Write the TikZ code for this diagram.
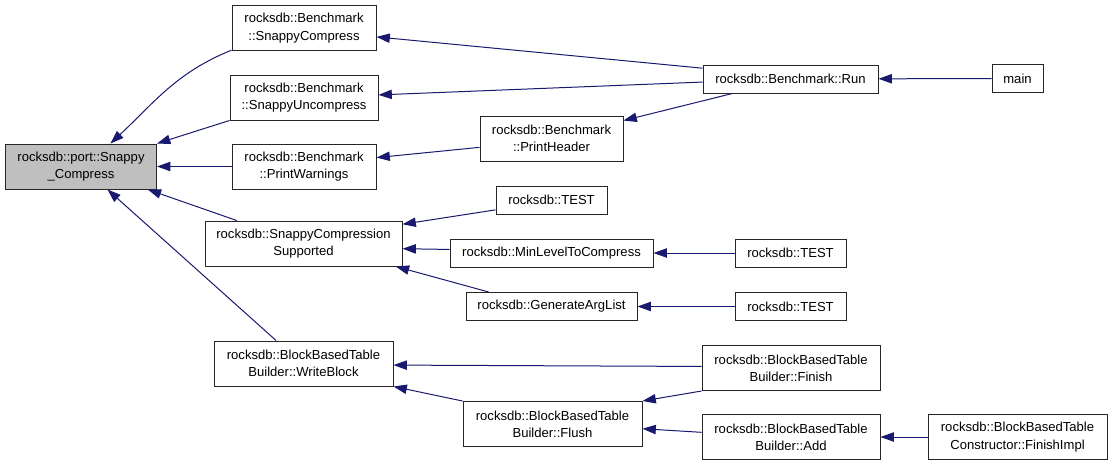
\documentclass[tikz,border=0pt]{standalone}
\usepackage{fontspec}
\setmainfont{Liberation Sans}
\usetikzlibrary{arrows.meta}
\definecolor{edgeblue}{RGB}{25,25,112}
\definecolor{focusgray}{RGB}{191,191,191}

\begin{document}
\begin{tikzpicture}[x=0.75pt,y=0.75pt,>={Triangle[length=10pt,width=7pt]},
						fn/.style={draw=black!85, fill=white, line width=0.75pt, align=center, inner sep=0pt,
							font=\fontsize{9.8}{13}\selectfont},
						one/.style={fn, minimum height=21pt},
						two/.style={fn, minimum height=33.75pt},
						focus/.style={fill=focusgray},
						call/.style={<-, draw=edgeblue, line width=0.75pt}]

						\useasboundingbox (0,0) rectangle (1112,-465);

						%%% Function under study
						\node at (81, -166.5) [two,focus,minimum width=113.25pt] (snappy) {rocksdb::port::Snappy\\\_Compress};

						%%% Direct callers
						\node at (304, -28) [two,minimum width=108pt] (scomp) {rocksdb::Benchmark\\::SnappyCompress};
						\node at (304, -97.5) [two,minimum width=111pt] (suncomp) {rocksdb::Benchmark\\::SnappyUncompress};
						\node at (304, -166.5) [two,minimum width=108pt] (pwarn) {rocksdb::Benchmark\\::PrintWarnings};
						\node at (303.5, -243.5) [two,minimum width=147.75pt] (scsup) {rocksdb::SnappyCompression\\Supported};
						\node at (303.5, -363.5) [two,minimum width=134.25pt] (wblock) {rocksdb::BlockBasedTable\\Builder::WriteBlock};

						\draw [call] (snappy.38) to[out=43,in=202] (scomp.197);
						\draw [call] (snappy.north east) -- (suncomp.south west);
						\draw [call] (snappy) -- (pwarn);
						\draw [call] (snappy.-19) -- (scsup.161);
						\draw [call] (snappy.-41) -- (wblock.140);

						%%% Benchmark side
						\node at (790.5, -79) [one,minimum width=131.25pt] (run) {rocksdb::Benchmark::Run};
						\node at (1017.5, -78.5) [one,minimum width=38.25pt] (main) {main};
						\node at (551.5, -138.5) [two,minimum width=107.25pt] (pheader) {rocksdb::Benchmark\\::PrintHeader};

						\draw [call] (scomp.-7) -- (run.173);
						\draw [call] (suncomp.2) -- (run.182);
						\draw [call] (pheader.14) -- (run.194);
						\draw [call] (run) -- (main);
						\draw [call] (pwarn.7) -- (pheader.187);

						%%% Compression support tests
						\node at (551.5, -200) [one,minimum width=83.25pt] (testA) {rocksdb::TEST};
						\node at (551.5, -253) [one,minimum width=152.25pt] (minlvl) {rocksdb::MinLevelToCompress};
						\node at (551.5, -306.5) [one,minimum width=128.25pt] (genarg) {rocksdb::GenerateArgList};
						\node at (790.5, -253) [one,minimum width=83.25pt] (testB) {rocksdb::TEST};
						\node at (790.5, -306.5) [one,minimum width=83.25pt] (testC) {rocksdb::TEST};

						\draw [call] (scsup.11) -- (testA.190);
						\draw [call] (scsup.-3) -- (minlvl.178);
						\draw [call] (scsup.-14) -- (genarg.167);
						\draw [call] (minlvl) -- (testB);
						\draw [call] (genarg) -- (testC);

						%%% Table builder
						\node at (791, -368) [two,minimum width=133.5pt] (finish) {rocksdb::BlockBasedTable\\Builder::Finish};
						\node at (552.5, -424) [two,minimum width=134.25pt] (flush) {rocksdb::BlockBasedTable\\Builder::Flush};
						\node at (791, -437) [two,minimum width=133.5pt] (add) {rocksdb::BlockBasedTable\\Builder::Add};
						\node at (1017.5, -437) [two,minimum width=134.25pt] (fimpl) {rocksdb::BlockBasedTable\\Constructor::FinishImpl};

						\draw [call] (wblock.-1) -- (finish.179);
						\draw [call] (wblock.south east) -- (flush.north west);
						\draw [call] (flush.north east) -- (finish.south west);
						\draw [call] (flush.-3) -- (add.177);
						\draw [call] (add) -- (fimpl);
					\end{tikzpicture}
\end{document}
